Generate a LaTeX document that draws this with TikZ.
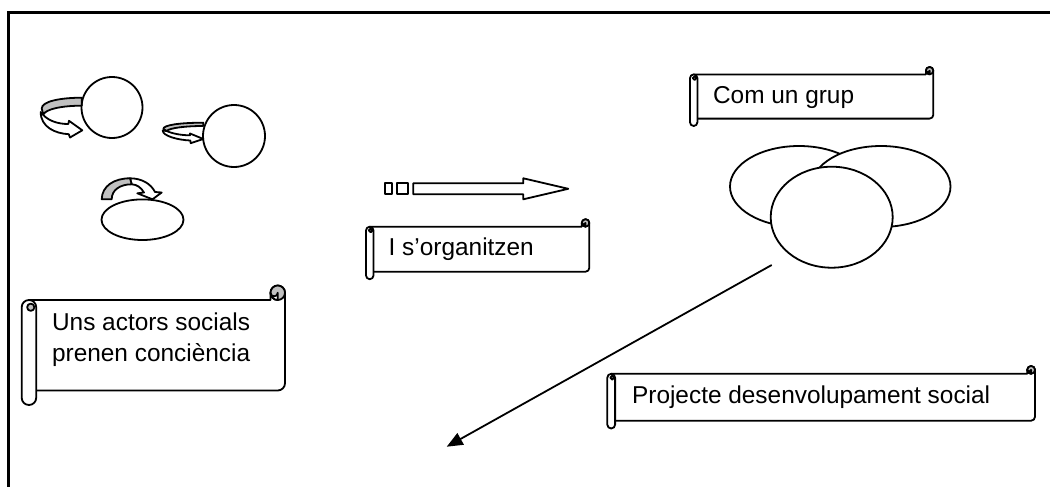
\documentclass[tikz,border=0pt]{standalone}
\usepackage{fontspec}
\setmainfont{Liberation Sans}
\usetikzlibrary{arrows.meta}
\definecolor{rollgrey}{RGB}{192,192,192}
\tikzset{
  shp/.style={line width=0.9pt, line join=round},
  lbl/.style={inner sep=0pt, anchor=base west, font=\fontsize{12.2}{15}\selectfont},
}
\newcommand\wscroll[5]{%
  \pgfmathsetmacro\Wl{#1}\pgfmathsetmacro\Wt{#2}\pgfmathsetmacro\Wr{#3}%
  \pgfmathsetmacro\Wb{#4}\pgfmathsetmacro\Wc{#5}%
  \pgfmathsetmacro\Wh{\Wc/2}\pgfmathsetmacro\Wq{\Wc/4}%
  \filldraw[shp, fill=white] (\Wl+\Wh,\Wt+\Wc) -- (\Wr-\Wc,\Wt+\Wc) -- (\Wr-\Wc,\Wt+\Wh)
     arc[start angle=180,end angle=360,radius=\Wh] -- (\Wr,\Wb-\Wc-\Wh)
     arc[start angle=0,end angle=90,radius=\Wh] -- (\Wl+\Wh,\Wb-\Wc) -- cycle;
  \filldraw[shp, fill=rollgrey] (\Wr-\Wh,\Wt+\Wh) circle[radius=\Wh];
  \filldraw[shp, fill=white] (\Wr-\Wc,\Wt+\Wh) arc[start angle=180,end angle=90,radius=\Wh]
     -- (\Wr-\Wh,\Wt+\Wh) arc[start angle=0,end angle=180,radius=\Wq] -- cycle;
  \filldraw[shp, fill=white] (\Wl,\Wt+\Wc+\Wh) arc[start angle=180,end angle=360,radius=\Wh]
     -- (\Wl+\Wc,\Wb-\Wh) arc[start angle=0,end angle=180,radius=\Wh] -- cycle;
  \filldraw[shp, fill=rollgrey] (\Wl+\Wh+\Wc/8,\Wt+\Wc+\Wh) circle[radius=\Wq];
}
\begin{document}
\begin{tikzpicture}[x=0.5pt,y=-0.5pt]
\useasboundingbox (0,0) rectangle (1050,487);
% frame
\draw[line width=1.1pt] (8.5,490) -- (8.5,12.5) -- (1055,12.5);

% circles and ellipse top-left
\draw[shp] (112,107.5) circle[radius=30.5];
\draw[shp] (234,136) circle[radius=31];
\draw[shp] (142.5,219.7) ellipse[x radius=41,y radius=20.3];

% curved arrow 1
\filldraw[shp, fill=white] (43.3,115) .. controls (49,121) and (58,124) .. (68.3,124)
  -- (69,120.8) -- (82.3,130.3) -- (70,137.5) -- (68.8,134.2)
  .. controls (55,133.5) and (40.7,127) .. (40.7,112) -- cycle;
\filldraw[shp, fill=rollgrey] (81.7,97.7) .. controls (62,97.7) and (41.7,101) .. (41.7,108.5)
  -- (43.3,114.5) .. controls (46,109) and (62,105.7) .. (81.7,105.7) -- cycle;

% curved arrow 2
\filldraw[shp, fill=white] (166.7,131) .. controls (172,133.5) and (181,135.3) .. (190,135.3)
  -- (190,133.5) -- (203.3,139) -- (190.7,143.2) -- (190.3,140.5)
  .. controls (178,140) and (162.7,136) .. (162.7,130.5) -- cycle;
\filldraw[shp, fill=rollgrey] (203.3,122.7) .. controls (180,122.7) and (163.3,125) .. (163.3,129)
  -- (166.7,130.9) .. controls (170,128) and (185,126) .. (203.3,126) -- cycle;

% curved arrow 3
\filldraw[shp, fill=white] (130,178.3) .. controls (142,178.3) and (151,184) .. (155,192)
  -- (161.7,192.5) -- (152.5,199.3) -- (137.3,193.3) -- (144,192.5)
  .. controls (141,187.5) and (137,184.5) .. (131.7,184.3) -- cycle;
\filldraw[shp, fill=rollgrey] (101.7,199.3) .. controls (102,186) and (114,178.3) .. (130,178.3)
  -- (131.7,184.3) .. controls (120,184.3) and (111.7,190) .. (111.7,199.3) -- cycle;

% striped arrow
\draw[shp] (385,182.7) rectangle (391.7,194.3);
\draw[shp] (396.7,183) rectangle (408.3,194.3);
\draw[shp] (413.3,183.3) -- (523.3,183.3) -- (523.3,178.3) -- (568.3,188.8)
  -- (523.3,199.3) -- (523.3,194.3) -- (413.3,194.3) -- cycle;

% overlapping ellipses
\filldraw[shp, fill=white] (799,186.5) ellipse[x radius=69,y radius=40.5];
\filldraw[shp, fill=white] (881,186.5) ellipse[x radius=69.5,y radius=40.5];
\filldraw[shp, fill=white] (831.7,217.2) ellipse[x radius=61,y radius=50.5];

% scrolls
\wscroll{21.7}{285.5}{285}{405}{14.5}
\node[lbl] (uns1) at (51.7,330) {Uns actors socials};
\node[lbl] (uns2) at (51.7,361.7) {prenen conciència};

\wscroll{366}{219.2}{589.3}{279.2}{7.5}
\node[lbl] (org) at (388.3,255) {I s’organitzen};

\wscroll{690}{67}{933.3}{126}{7.4}
\node[lbl] (grup) at (712.7,103.3) {Com un grup};

\wscroll{607.3}{366}{1035}{428.5}{7.8}
\node[lbl] (proj) at (631.7,403.3) {Projecte desenvolupament social};

% connector
\coordinate (s) at (771.7,265);
\coordinate (e) at (446.7,446.7);
\draw[shp, -{Triangle[length=8pt,width=6.5pt]}] (s) -- (e);
\end{tikzpicture}
\end{document}
